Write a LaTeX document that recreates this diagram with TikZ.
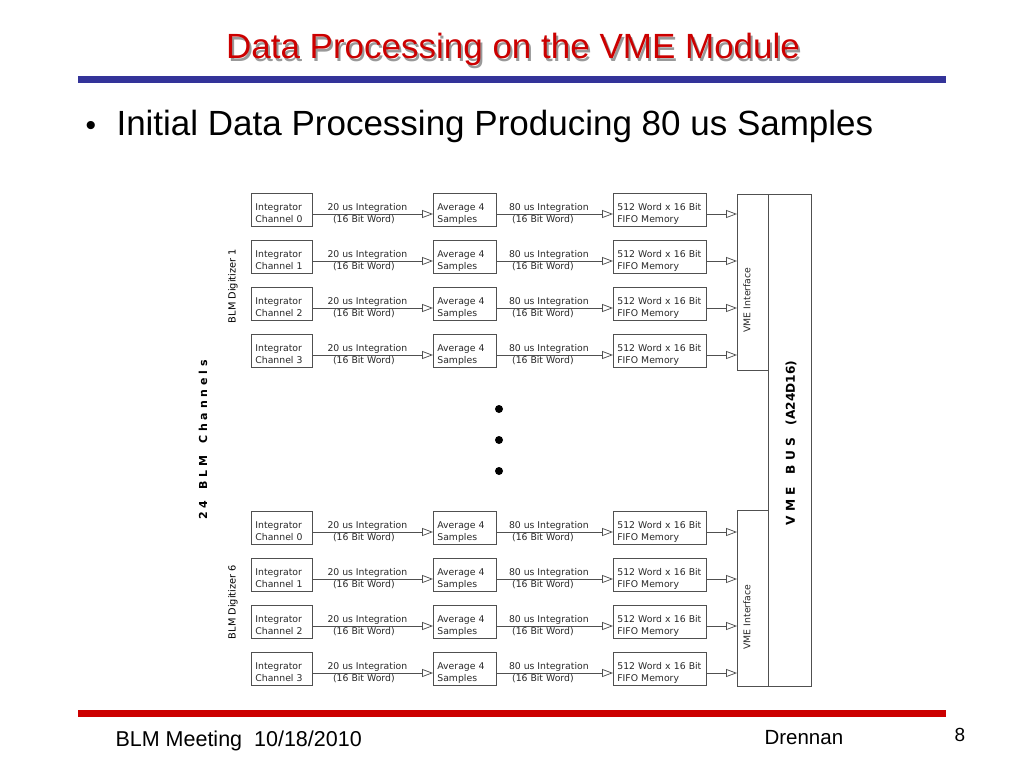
\documentclass[tikz,border=0pt]{standalone}
\usepackage{fontspec}
\setmainfont{Liberation Sans}
\newfontfamily\dvs{DejaVu Sans}
\usetikzlibrary{arrows.meta}
\definecolor{titlered}{RGB}{204,0,0}
\definecolor{rulered}{RGB}{204,0,0}
\definecolor{ruleblue}{RGB}{51,51,153}
\definecolor{boxgray}{RGB}{80,80,80}
\definecolor{txtgray}{RGB}{40,40,40}
\newcommand\twol[2]{\rule{0pt}{16pt}#1\\#2\rule[-3pt]{0pt}{3pt}}
\begin{document}
\begin{tikzpicture}[x=1pt,y=-1pt,
  blk/.style={draw=boxgray, line width=0.75pt, minimum height=33pt, inner xsep=4pt, inner ysep=0pt,
    align=left, anchor=west, text=txtgray, font=\dvs\fontsize{9.3}{12.5}\selectfont},
  intb/.style={blk, minimum width=61pt, text width=53pt},
  avgb/.style={blk, minimum width=63pt, text width=55pt},
  fifob/.style={blk, minimum width=93pt, text width=85pt},
  conn/.style={draw=boxgray, line width=0.75pt, -{Triangle[open,length=11pt,width=8pt]}},
  lab/.style={font=\dvs\fontsize{9.3}{11}\selectfont, inner sep=0.8pt, text=txtgray},
  vlab/.style={rotate=90, text=txtgray, font=\dvs\fontsize{9.3}{11}\selectfont},
  sidelab/.style={rotate=90, font=\dvs\fontsize{9.8}{12}\selectfont},
  boldlab/.style={rotate=90, font=\dvs\bfseries\fontsize{11}{13}\selectfont},
  buslab/.style={rotate=90, font=\dvs\bfseries\fontsize{12.2}{14}\selectfont},
  dot/.style={circle, fill=black, inner sep=0pt, minimum size=8pt},
]
\useasboundingbox (0,0) rectangle (1024,768);

% title and rules
\node[anchor=base, font=\fontsize{35}{38}\selectfont, text=black!40] (titleshadow) at (515,61) {Data Processing on the VME Module};
\node[anchor=base, font=\fontsize{35}{38}\selectfont, text=titlered] (title) at (513,59) {Data Processing on the VME Module};
\fill[ruleblue] (78,76) rectangle (946,83);
\node[anchor=base, font=\fontsize{30}{34}\selectfont] (bul) at (91,135) {•};
\node[anchor=base west, font=\fontsize{35}{38}\selectfont] (sub) at (113,135) {Initial Data Processing Producing 80 us Samples};

% VME interface and bus
\node[draw=boxgray, line width=0.75pt, anchor=north west, minimum width=31pt, minimum height=176pt, inner sep=0pt] (vi1) at (737,194) {};
\node[draw=boxgray, line width=0.75pt, anchor=north west, minimum width=31pt, minimum height=176pt, inner sep=0pt] (vi6) at (737,510) {};
\node[draw=boxgray, line width=0.75pt, anchor=north west, minimum width=43pt, minimum height=492pt, inner sep=0pt] (bus) at (768,194) {};
\node[vlab] (vt1) at (747,300) {VME Interface};
\node[vlab] (vt6) at (747,617) {VME Interface};
\node[buslab] (bustxt) at (791,443) {V M E \ \ B U S \ \ (A24D16)};

% rows
\foreach \g/\base in {1/210,6/528}{
  \foreach \r in {0,...,3}{
    \pgfmathsetmacro\yy{\base+47*\r}
    \node[intb] (i\g\r) at (251,\yy) {\twol{Integrator}{Channel \r}};
    \node[avgb] (a\g\r) at (433,\yy) {\twol{Average 4}{Samples}};
    \node[fifob] (f\g\r) at (613,\yy) {\twol{512 Word x 16 Bit}{FIFO Memory}};
    \draw[conn] ([yshift=-4pt]i\g\r.east) --
      node[lab, above, xshift=-5.5pt] {20 us Integration}
      node[lab, below, xshift=-9pt] {(16 Bit Word)}
      ([yshift=-4pt]a\g\r.west);
    \draw[conn] ([yshift=-4pt]a\g\r.east) --
      node[lab, above, xshift=-6pt] {80 us Integration}
      node[lab, below, xshift=-12pt] {(16 Bit Word)}
      ([yshift=-4pt]f\g\r.west);
    \draw[conn] ([yshift=-4pt]f\g\r.east) -- ([yshift=-4pt]f\g\r.east -| vi\g.west);
  }
}

% side labels
\node[sidelab] (dg1) at (233,286) {BLM Digitizer 1};
\node[sidelab] (dg6) at (233,602) {BLM Digitizer 6};
\node[boldlab] (chan) at (203,440) {2 4 \ \ B L M \ \ C h a n n e l s};

% dots
\node[dot] (d1) at (499,409) {};
\node[dot] (d2) at (499,440) {};
\node[dot] (d3) at (499,471) {};

% footer
\fill[rulered] (78,710) rectangle (946,717);
\node[anchor=base west, font=\fontsize{21.5}{24}\selectfont] (foot) at (112,746) {BLM Meeting\ \ 10/18/2010};
\node[anchor=base west, font=\fontsize{20.5}{24}\selectfont] (auth) at (761,744) {Drennan};
\node[anchor=base west, font=\fontsize{19}{22}\selectfont] (page) at (951,741) {8};
\end{tikzpicture}
\end{document}
